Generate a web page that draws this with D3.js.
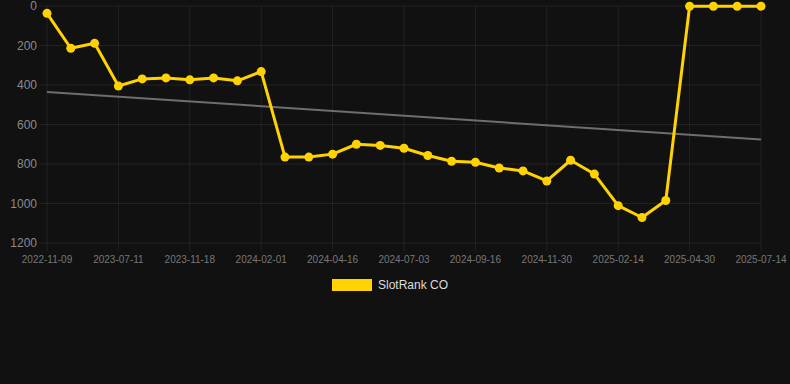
<!DOCTYPE html>
<html>
<head>
<meta charset="utf-8">
<script src="https://cdn.jsdelivr.net/npm/d3@7"></script>
<style>
  html, body { margin: 0; padding: 0; background: #111111; }
  .chart { width: 790px; height: 384px; }
</style>
</head>
<body>
<div class="chart"></div>
<script>
// dates shown under the axis (every third point)
var tickLabels = ['2022-11-09', '2023-07-11', '2023-11-18', '2024-02-01', '2024-04-16',
  '2024-07-03', '2024-09-16', '2024-11-30', '2025-02-14', '2025-04-30', '2025-07-14']
// rank per point
var rankValues = [37, 214, 189, 405, 369, 364, 374, 364, 379, 332,
  765, 765, 750, 700, 706, 720, 757, 786, 791, 820, 835, 886,
  781, 851, 1011, 1071, 985, 1, 1, 1, 1]
var trendValues = [435, 676]
var yTicks = [0, 200, 400, 600, 800, 1000, 1200]
var seriesName = 'SlotRank CO'

var width = 790
var height = 384
var margin = {top: 6, right: 29, bottom: 141, left: 47}
var innerW = width - margin.left - margin.right
var innerH = height - margin.top - margin.bottom

var idx = d3.range(rankValues.length)
var x = d3.scaleLinear().domain([0, rankValues.length - 1]).range([0, innerW])
var y = d3.scaleLinear().domain([0, 1200]).range([0, innerH])

var svg = d3.select('.chart').append('svg')
  .attr('width', width)
  .attr('height', height)
  .style('font-family', 'Liberation Sans, Arial, sans-serif')

var g = svg.append('g')
  .attr('transform', 'translate(' + margin.left + ',' + margin.top + ')')

// horizontal grid
g.append('g').selectAll('line').data(yTicks).enter().append('line')
  .attr('x1', -8).attr('x2', innerW)
  .attr('y1', function(d) { return y(d) }).attr('y2', function(d) { return y(d) })
  .style('stroke', 'rgba(255,255,255,0.07)').style('stroke-width', 1)

// vertical grid at labelled points
var labelIdx = tickLabels.map(function(d, i) { return i * 3 })
g.append('g').selectAll('line').data(labelIdx).enter().append('line')
  .attr('x1', function(d) { return x(d) }).attr('x2', function(d) { return x(d) })
  .attr('y1', 0).attr('y2', innerH + 8)
  .style('stroke', 'rgba(255,255,255,0.07)').style('stroke-width', 1)

// y labels
g.append('g').selectAll('text').data(yTicks).enter().append('text')
  .attr('x', -10)
  .attr('y', function(d) { return y(d) })
  .attr('dy', '0.35em')
  .attr('text-anchor', 'end')
  .style('fill', '#8a8a8a')
  .style('font-size', '12px')
  .text(function(d) { return d })

// x labels
g.append('g').selectAll('text').data(tickLabels).enter().append('text')
  .attr('x', function(d, i) { return x(i * 3) })
  .attr('y', innerH + 16)
  .attr('dy', '0.35em')
  .attr('text-anchor', 'middle')
  .style('fill', '#777777')
  .style('font-size', '10px')
  .text(function(d) { return d })

// trend
g.append('line')
  .attr('x1', x(0)).attr('x2', x(rankValues.length - 1))
  .attr('y1', y(trendValues[0])).attr('y2', y(trendValues[1]))
  .style('stroke', '#6e6e6e').style('stroke-width', 2)

var line = d3.line()
  .x(function(d) { return x(d) })
  .y(function(d) { return y(rankValues[d]) })

g.append('path')
  .datum(idx)
  .attr('d', line)
  .style('fill', 'none')
  .style('stroke', '#ffd200')
  .style('stroke-width', 3)
  .style('stroke-linejoin', 'round')

g.append('g').selectAll('circle').data(idx).enter().append('circle')
  .attr('cx', function(d) { return x(d) })
  .attr('cy', function(d) { return y(rankValues[d]) })
  .attr('r', 4.5)
  .style('fill', '#ffd200')

// legend
var legend = svg.append('g').attr('transform', 'translate(332,279)')
legend.append('rect').attr('width', 40).attr('height', 12).style('fill', '#ffd200')
legend.append('text')
  .attr('x', 46).attr('y', 6).attr('dy', '0.35em')
  .style('fill', '#dddddd').style('font-size', '12px')
  .text(seriesName)
</script>
</body>
</html>
